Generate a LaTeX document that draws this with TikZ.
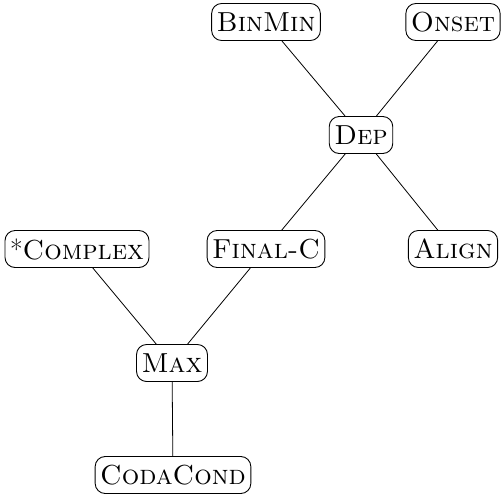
\documentclass[tikz,border=0pt]{standalone}
\begin{document}
\begin{tikzpicture}[x=1pt,y=-1pt,
  cbox/.style={draw, rounded corners=10pt, line width=0.9pt, inner xsep=5pt, inner ysep=3pt, font=\fontsize{27.5}{32}\selectfont, minimum height=37pt},
  conn/.style={line width=0.8pt}]
\useasboundingbox (0,0) rectangle (501,496);
\node[cbox] (binmin) at (266,22) {\textsc{BinMin}};
\node[cbox] (onset) at (453,22) {\textsc{Onset}};
\node[cbox] (dep) at (361,135) {\textsc{Dep}};
\node[cbox] (complex) at (77,249) {*\textsc{Complex}};
\node[cbox] (finalc) at (266,249) {\textsc{Final-C}};
\node[cbox] (align) at (453,249) {\textsc{Align}};
\node[cbox] (max) at (172,363) {\textsc{Max}};
\node[cbox] (coda) at (173,475) {\textsc{CodaCond}};
\draw[conn] (binmin) -- (dep);
\draw[conn] (onset) -- (dep);
\draw[conn] (dep) -- (finalc);
\draw[conn] (dep) -- (align);
\draw[conn] (complex) -- (max);
\draw[conn] (finalc) -- (max);
\draw[conn] (max) -- (coda);
\end{tikzpicture}
\end{document}
